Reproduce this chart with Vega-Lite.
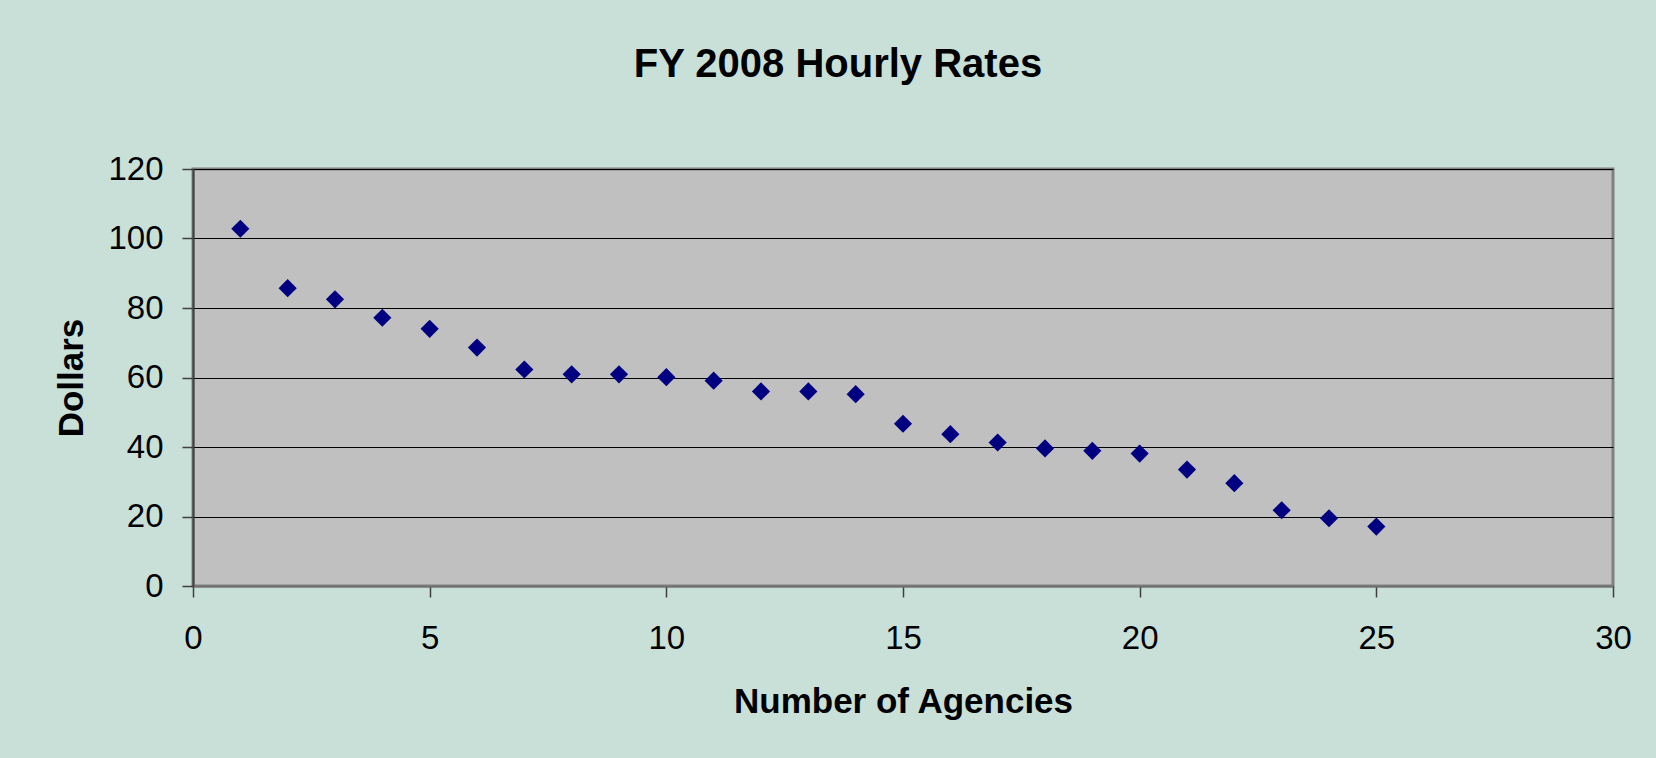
{
  "$schema": "https://vega.github.io/schema/vega-lite/v6.json",
  "autosize": {"type": "none"},
  "width": 1420,
  "height": 417,
  "padding": {"left": 193, "top": 169, "right": 43, "bottom": 172},
  "background": "#C9E0D9",
  "title": {
    "text": "FY 2008 Hourly Rates",
    "font": "Liberation Sans",
    "fontSize": 40,
    "fontWeight": "bold",
    "color": "#000000",
    "anchor": "middle",
    "frame": "group",
    "dx": -65,
    "offset": 68
  },
  "config": {
    "view": {"fill": "#C0C0C0", "stroke": "#808080", "strokeWidth": 3},
    "axis": {
      "labelFont": "Liberation Sans",
      "labelFontSize": 33,
      "labelColor": "#000000",
      "titleFont": "Liberation Sans",
      "titleFontSize": 35,
      "titleFontWeight": "bold",
      "titleColor": "#000000",
      "tickColor": "#404040",
      "tickSize": 11,
      "tickWidth": 1.5,
      "domainColor": "#404040",
      "domainWidth": 2,
      "labelFlush": false,
      "labelOverlap": false
    }
  },
  "data": {
    "values": [
      {"agency": 1, "dollars": 102.8},
      {"agency": 2, "dollars": 85.7},
      {"agency": 3, "dollars": 82.5},
      {"agency": 4, "dollars": 77.2},
      {"agency": 5, "dollars": 74.0},
      {"agency": 6, "dollars": 68.6},
      {"agency": 7, "dollars": 62.3},
      {"agency": 8, "dollars": 60.9},
      {"agency": 9, "dollars": 60.9},
      {"agency": 10, "dollars": 60.1},
      {"agency": 11, "dollars": 59.1},
      {"agency": 12, "dollars": 56.0},
      {"agency": 13, "dollars": 56.0},
      {"agency": 14, "dollars": 55.2},
      {"agency": 15, "dollars": 46.7},
      {"agency": 16, "dollars": 43.7},
      {"agency": 17, "dollars": 41.3},
      {"agency": 18, "dollars": 39.6},
      {"agency": 19, "dollars": 38.9},
      {"agency": 20, "dollars": 38.1},
      {"agency": 21, "dollars": 33.5},
      {"agency": 22, "dollars": 29.6},
      {"agency": 23, "dollars": 21.8},
      {"agency": 24, "dollars": 19.5},
      {"agency": 25, "dollars": 17.1}
    ]
  },
  "mark": {"type": "point", "shape": "diamond", "filled": true, "color": "#000080", "size": 330, "opacity": 1},
  "encoding": {
    "x": {
      "field": "agency",
      "type": "quantitative",
      "title": "Number of Agencies",
      "scale": {"domain": [0, 30], "nice": false, "zero": true},
      "axis": {
        "values": [0, 5, 10, 15, 20, 25, 30],
        "grid": false,
        "labelPadding": 25,
        "titlePadding": 29,
        "domainColor": "#707070"
      }
    },
    "y": {
      "field": "dollars",
      "type": "quantitative",
      "title": "Dollars",
      "scale": {"domain": [0, 120], "nice": false},
      "axis": {
        "values": [0, 20, 40, 60, 80, 100, 120],
        "grid": true,
        "gridColor": "#000000",
        "gridWidth": 1,
        "gridOpacity": 1,
        "labelPadding": 19,
        "titlePadding": 18
      }
    }
  }
}
